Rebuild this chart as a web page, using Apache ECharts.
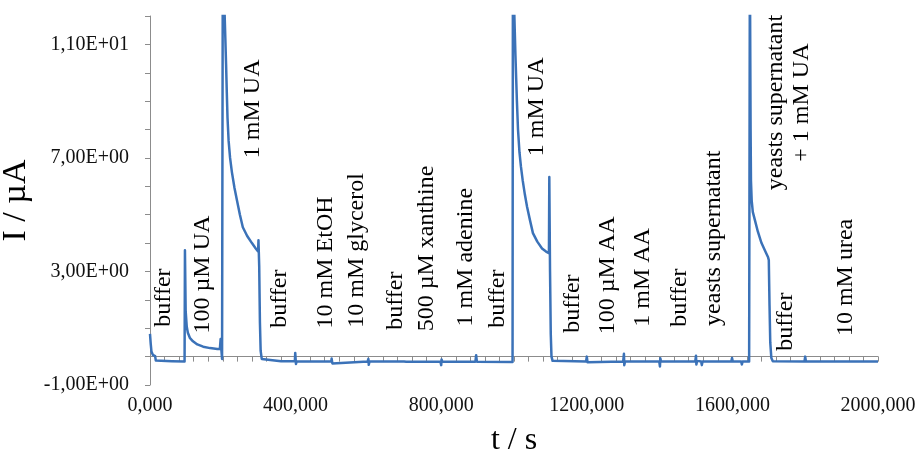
<!DOCTYPE html>
<html>
<head>
<meta charset="utf-8">
<script src="https://cdn.jsdelivr.net/npm/echarts@6/dist/echarts.min.js"></script>
<style>
  html, body { margin: 0; padding: 0; background: #ffffff; }
  #chart { width: 921px; height: 459px; }
</style>
</head>
<body>
<div id="chart"></div>
<script>
// Amperometric trace: time (s) and current (µA)
const time = [
  0, 2, 4, 8, 14, 16, 20, 60, 95,
  96, 98, 101, 104, 110, 118, 130, 146, 165, 185, 192, 194, 196, 198,
  200, 204, 207, 209, 211, 213, 216, 220, 225, 232, 239, 247, 255, 267, 280, 290, 297, 298, 300, 302, 304, 307, 312,
  360, 398, 399, 401, 403, 498, 499, 501, 503, 598, 600, 601, 603,
  698, 700, 702, 704, 798, 800, 801, 803, 894, 896, 898, 996,
  997, 1001, 1004, 1006, 1008, 1011, 1015, 1019, 1024, 1030, 1036, 1044, 1052, 1064, 1077, 1088, 1096,
  1097, 1099, 1101, 1103, 1106, 1110,
  1198, 1200, 1202, 1204, 1300, 1302, 1303, 1305, 1399, 1401, 1402, 1404,
  1498, 1500, 1501, 1503, 1514, 1516, 1518, 1597, 1599, 1601, 1624, 1626, 1628, 1646,
  1648, 1650, 1651, 1653, 1656, 1662, 1670, 1680, 1690, 1698, 1700, 1702, 1704, 1707, 1711,
  1798, 1800, 1802, 2000
];
const current = [
  0.80, 0.45, 0.18, 0.06, 0.02, -0.14, -0.17, -0.16, -0.17,
  3.75, 1.6, 1.05, 0.84, 0.65, 0.54, 0.43, 0.35, 0.30, 0.27, 0.27, 0.62, 0.25, -0.08,
  14, 12.5, 11.2, 10.3, 9.3, 8.4, 7.6, 7.0, 6.5, 5.95, 5.5, 5.0, 4.56, 4.25, 4.0, 3.82, 3.7, 4.1, 3.2, 1.2, 0.2, -0.08, -0.15,
  -0.16, -0.16, 0.13, -0.26, -0.16, -0.17, -0.07, -0.24, -0.17, -0.17, -0.08, -0.29, -0.17,
  -0.17, -0.1, -0.22, -0.18, -0.18, -0.3, -0.1, -0.18, -0.18, 0.05, -0.18, -0.19,
  14, 12.0, 10.6, 9.8, 9.0, 8.0, 7.2, 6.7, 6.2, 5.7, 5.27, 4.8, 4.35, 4.05, 3.81, 3.7, 3.64,
  6.33, 3.0, 0.8, 0.0, -0.15, -0.17,
  -0.17, 0.0, -0.2, -0.17, -0.17, 0.1, -0.3, -0.17, -0.17, -0.35, -0.06, -0.17,
  -0.17, 0.03, -0.28, -0.15, -0.17, -0.3, -0.17, -0.17, -0.05, -0.17, -0.17, -0.28, -0.17, -0.17,
  14, 8, 6.2, 5.5, 5.1, 4.8, 4.4, 4.0, 3.72, 3.5, 3.4, 1.8, 0.5, -0.05, -0.16,
  -0.17, 0.0, -0.17, -0.17
];

// Axis ticks and their printed labels
const xTickValues = [0, 400, 800, 1200, 1600, 2000];
const xTickLabels = ['0,000', '400,000', '800,000', '1200,000', '1600,000', '2000,000'];
const yTickValues = [-1, 3, 7, 11];
const yTickLabels = ['-1,00E+00', '3,00E+00', '7,00E+00', '1,10E+01'];

// Injection annotations, anchored at their centre (time, current)
const annotText = [
  'buffer', '100 µM UA', '1 mM UA', 'buffer', '10 mM EtOH', '10 mM glycerol',
  'buffer', '500 µM xanthine', '1 mM adenine', 'buffer', '1 mM UA', 'buffer',
  '100 µM AA', '1 mM AA', 'buffer', 'yeasts supernatant',
  'yeasts supernatant\n+ 1 mM UA', 'buffer', '10 mM urea'
];
const annotTime = [
  38, 146, 283, 357, 484, 569,
  676, 761, 868, 956, 1063, 1162,
  1258, 1354, 1456, 1549,
  1755, 1747, 1912
];
const annotCurrent = [
  2.08, 2.89, 8.73, 2.04, 3.32, 3.74,
  1.97, 3.81, 3.5, 2.04, 8.8, 1.87,
  2.86, 2.79, 2.08, 4.17,
  8.95, 1.23, 2.79
];

const serif = '"Liberation Serif", "Times New Roman", serif';
const axisGray = '#8c8c8c';

const chart = echarts.init(document.getElementById('chart'), null, { renderer: 'canvas' });

chart.setOption({
  animation: false,
  backgroundColor: '#ffffff',
  grid: { left: 150, right: 43, top: 16, bottom: 74, containLabel: false, outerBoundsMode: 'none' },
  xAxis: {
    type: 'value',
    min: 0,
    max: 2000,
    interval: 40,
    name: 't / s',
    nameLocation: 'middle',
    nameGap: 40,
    nameTextStyle: { fontFamily: serif, fontSize: 32, color: '#000' },
    axisLine: { show: true, lineStyle: { color: axisGray, width: 1 } },
    axisTick: { show: true, length: 5, lineStyle: { color: axisGray } },
    splitLine: { show: false },
    axisLabel: {
      margin: 11,
      fontFamily: serif,
      fontSize: 20,
      color: '#111',
      formatter: function (v) {
        const i = xTickValues.indexOf(Math.round(v));
        return i >= 0 ? xTickLabels[i] : '';
      }
    }
  },
  yAxis: {
    type: 'value',
    min: -1,
    max: 12,
    interval: 1,
    name: 'I / µA',
    nameLocation: 'middle',
    nameGap: 90,
    nameTextStyle: { fontFamily: serif, fontSize: 34, color: '#000' },
    axisLine: { show: true, lineStyle: { color: axisGray, width: 1 } },
    axisTick: { show: true, length: 5, lineStyle: { color: axisGray } },
    splitLine: { show: false },
    axisLabel: {
      margin: 21,
      fontFamily: serif,
      fontSize: 20,
      color: '#111',
      formatter: function (v) {
        const i = yTickValues.indexOf(Math.round(v));
        return i >= 0 ? yTickLabels[i] : '';
      }
    }
  },
  series: [
    {
      name: 'current',
      type: 'line',
      data: time.map((t, i) => [t, current[i]]),
      showSymbol: false,
      symbol: 'none',
      clip: true,
      lineStyle: { color: '#3b72b8', width: 2.5, join: 'round' },
      z: 3
    },
    {
      name: 'injections',
      type: 'custom',
      coordinateSystem: 'cartesian2d',
      silent: true,
      z: 5,
      data: annotTime.map((t, i) => [t, annotCurrent[i]]),
      renderItem: function (params, api) {
        const p = api.coord([api.value(0), api.value(1)]);
        return {
          type: 'text',
          x: p[0],
          y: p[1],
          rotation: Math.PI / 2,
          style: {
            text: annotText[params.dataIndex],
            fontFamily: serif,
            fontSize: 24,
            lineHeight: 26,
            fill: '#000',
            align: 'center',
            verticalAlign: 'middle'
          }
        };
      }
    }
  ]
});
</script>
</body>
</html>
